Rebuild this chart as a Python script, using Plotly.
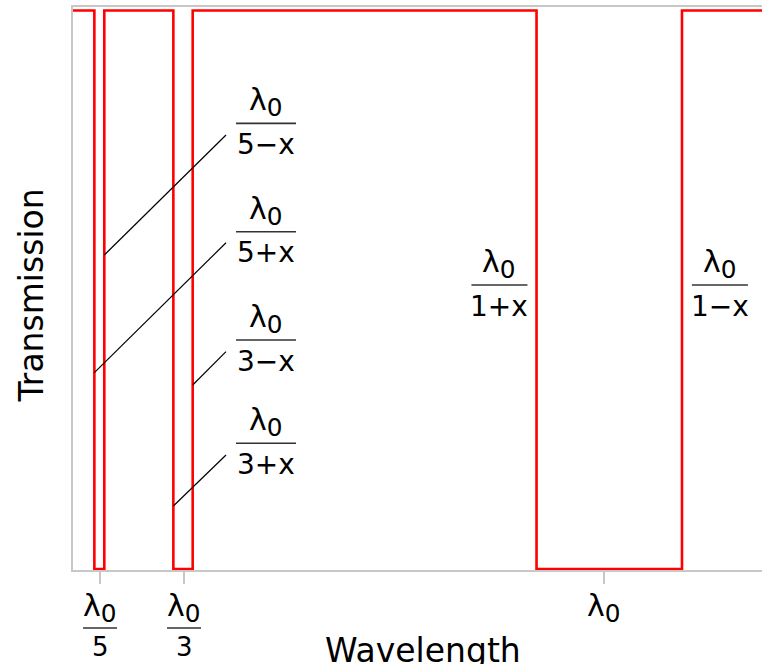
import plotly.graph_objects as go

# Wavelength axis in units of lambda_0
x_min, x_max = 0.1571, 1.2508
# Stop-band edges (transmission drops to 0 between lo and hi)
band_lo = [0.1910, 0.3164, 0.8929]
band_hi = [0.2068, 0.3471, 1.1238]
T_pass, T_stop = 1.0, 0.0

# Axis ticks
tick_vals = [1 / 5, 1 / 3, 1.0]
tick_den = ["5", "3", ""]

# Fraction labels inside the plot
frac_den = ["5−x", "5+x", "3−x", "3+x", "1+x", "1−x"]
frac_x = [0.4635, 0.4635, 0.4635, 0.4635, 0.834, 1.184]
frac_y = [0.798, 0.604, 0.410, 0.2251, 0.5085, 0.5085]
frac_halfw = [30, 30, 30, 30, 28, 28]

# Leader lines from red edges to labels
leader_edge = [band_hi[0], band_lo[0], band_hi[1], band_lo[1]]
leader_y_low = [0.5622, 0.3515, 0.3295, 0.1128]
leader_x_high = 0.4
leader_y_high = [0.7771, 0.5842, 0.3891, 0.2041]

FONT = "DejaVu Sans"
NUM = "λ<sub><span style='font-size:118%'>0</span></sub>"

# build step line
xs, ys = [x_min], [T_pass]
for lo, hi in zip(band_lo, band_hi):
    xs += [lo, lo, hi, hi]
    ys += [T_pass, T_stop, T_stop, T_pass]
xs.append(x_max)
ys.append(T_pass)

fig = go.Figure()
fig.add_trace(go.Scatter(x=xs, y=ys, mode="lines",
                         line=dict(color="#ff0000", width=2.6),
                         hoverinfo="skip", showlegend=False))

ann = []
shapes = []

# in-plot fraction labels
for den, xc, yb, hw in zip(frac_den, frac_x, frac_y, frac_halfw):
    ann.append(dict(x=xc, y=yb, xref="x", yref="y", text=NUM, showarrow=False,
                    yanchor="middle", yshift=21, font=dict(family=FONT, size=30, color="black")))
    ann.append(dict(x=xc, y=yb, xref="x", yref="y", text=den, showarrow=False,
                    yanchor="middle", yshift=-21, font=dict(family=FONT, size=28, color="black")))
    shapes.append(dict(type="line", xref="x", yref="y", xsizemode="pixel", ysizemode="pixel",
                       xanchor=xc, yanchor=yb, x0=-hw, x1=hw, y0=0, y1=0,
                       line=dict(color="#333333", width=1.6)))

# leader lines
for xe, yl, yh in zip(leader_edge, leader_y_low, leader_y_high):
    shapes.append(dict(type="line", xref="x", yref="y", x0=xe, y0=yl, x1=leader_x_high, y1=yh,
                       line=dict(color="black", width=1.2)))

# tick labels (fractions)
for tv, den in zip(tick_vals, tick_den):
    ann.append(dict(x=tv, y=0, xref="x", yref="paper", text=NUM, showarrow=False,
                    yanchor="middle", yshift=-38, font=dict(family=FONT, size=30, color="black")))
    if den:
        ann.append(dict(x=tv, y=0, xref="x", yref="paper", text=den, showarrow=False,
                        yanchor="middle", yshift=-77, font=dict(family=FONT, size=26, color="black")))
        shapes.append(dict(type="line", xref="x", yref="paper", xsizemode="pixel", ysizemode="pixel",
                           xanchor=tv, yanchor=0, x0=-17, x1=17, y0=-58, y1=-58,
                           line=dict(color="#333333", width=1.6)))

# axis titles
ann.append(dict(x=0.712, y=0, xref="x", yref="paper", text="Wavelength", showarrow=False,
                yanchor="middle", yshift=-80, font=dict(family=FONT, size=33, color="black")))
ann.append(dict(x=0, y=0.4876, xref="paper", yref="paper", text="Transmission", showarrow=False,
                textangle=-90, xanchor="center", yanchor="middle", xshift=-42,
                font=dict(family=FONT, size=33, color="black")))

fig.update_layout(
    width=762, height=664,
    margin=dict(l=73, r=0, t=7, b=94),
    paper_bgcolor="white", plot_bgcolor="white",
    annotations=ann, shapes=shapes,
    xaxis=dict(range=[x_min, x_max], showgrid=False, zeroline=False,
               showline=True, linecolor="#c8c8c8", linewidth=2, mirror=True,
               ticks="outside", ticklen=12, tickwidth=2, tickcolor="#c8c8c8",
               tickvals=tick_vals, ticktext=["", "", ""]),
    yaxis=dict(range=[-0.0018, 1.0063], showgrid=False, zeroline=False,
               showline=True, linecolor="#c8c8c8", linewidth=2,
               showticklabels=False, ticks=""),
)

# remove the browser's default 8px page margin so the figure fills the window
fig.write_html("out.html",
               config={"displayModeBar": False},
               post_script="document.body.style.margin='0';document.body.style.overflow='hidden';")
